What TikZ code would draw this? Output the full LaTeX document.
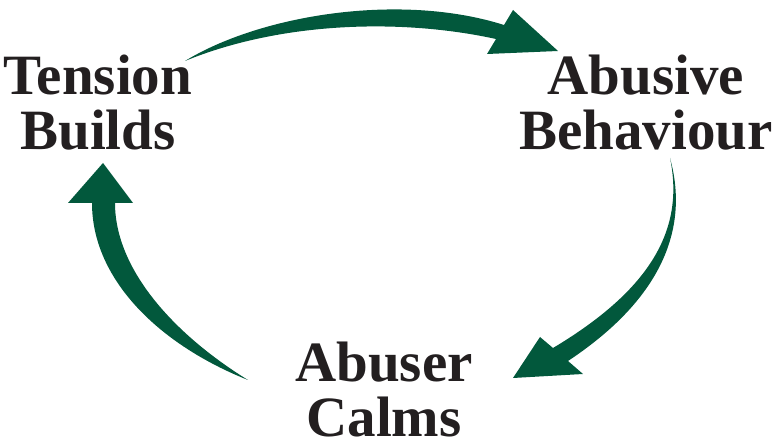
\documentclass[tikz,border=0pt]{standalone}
\usepackage{fontspec}
\setmainfont{Liberation Serif}
\definecolor{cyclegreen}{RGB}{2,88,60}
\definecolor{cycleink}{RGB}{35,31,32}
\tikzset{
  stage/.style={align=center, text=cycleink, inner sep=0pt,
    font=\bfseries\fontsize{57}{55}\selectfont},
  cyclearrow/.style={fill=cyclegreen, draw=none}
}
\begin{document}
\begin{tikzpicture}[x=1pt, y=-1pt]
    \useasboundingbox (0,0) rectangle (772,446);
    \node[stage] (tension) at (98,103) {Tension\\Builds};
    \node[stage] (abusive) at (646,103) {Abusive\\Behaviour};
    \node[stage] (calms) at (384,390) {Abuser\\Calms};
    \fill[cyclearrow] (185,61) .. controls (260,15) and (400,-8) .. (504,25)
        -- (513,10) -- (558,51) -- (487,54) -- (496,39)
        .. controls (400,18) and (280,22) .. (185,61) -- cycle;
    \fill[cyclearrow] (670,158) .. controls (690,230) and (660,300) .. (568,361)
        -- (583,374) -- (513,378) -- (540,337) -- (553,348)
        .. controls (650,290) and (685,230) .. (670,158) -- cycle;
    \fill[cyclearrow] (248,380) .. controls (160,345) and (92,280) .. (92,203)
        -- (68,203) -- (103,163) -- (133,203) -- (115,203)
        .. controls (115,270) and (175,335) .. (248,380) -- cycle;
\end{tikzpicture}
\end{document}
